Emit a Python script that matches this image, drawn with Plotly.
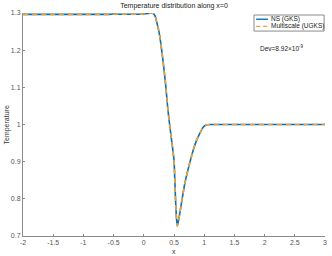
import plotly.graph_objects as go

x_vals = [-2.0, -1.5, -1.0, -0.7, -0.58, -0.52, -0.48, -0.42, -0.3, -0.1, 0.0, 0.06, 0.1, 0.13, 0.16,
          0.19, 0.21, 0.24, 0.27, 0.30, 0.32, 0.36, 0.40, 0.45, 0.50, 0.52, 0.54, 0.555, 0.57,
          0.60, 0.64, 0.68, 0.75, 0.82, 0.88, 0.93, 0.98, 1.04, 1.1, 1.5, 2.0, 2.5, 3.0]
t_ns = [1.2962, 1.2962, 1.2962, 1.2962, 1.2964, 1.2972, 1.2972, 1.2966, 1.2966, 1.2968, 1.2972, 1.2985, 1.2995,
        1.2998, 1.2985, 1.291, 1.278, 1.258, 1.232, 1.195, 1.169, 1.11, 1.038, 0.97, 0.905, 0.82, 0.75, 0.727, 0.738,
        0.765, 0.805, 0.842, 0.89, 0.932, 0.96, 0.977, 0.992, 0.999, 1.0, 1.0, 1.0, 1.0, 1.0]
t_ugks = list(t_ns)

series_names = ["NS (GKS)", "Multiscale (UGKS)"]
series_colors = ["#0072BD", "#F0A030"]
title_text = "Temperature distribution along x=0"
dev_text = "Dev=8.92×10<sup>-9</sup>"

font_family = "Liberation Sans, Arial, sans-serif"
axis_gray = "#8a8a8a"

fig = go.Figure()
fig.add_trace(go.Scatter(x=x_vals, y=t_ns, mode="lines", name=series_names[0],
                         line=dict(color=series_colors[0], width=1.6, shape="spline", smoothing=0.5)))
fig.add_trace(go.Scatter(x=x_vals, y=t_ugks, mode="lines", name=series_names[1],
                         line=dict(color=series_colors[1], width=1.6, dash="5px,4px", shape="spline", smoothing=0.5)))

axis_common = dict(showgrid=False, zeroline=False, showline=True, linecolor=axis_gray, linewidth=1,
                   ticks="inside", ticklen=2, tickcolor=axis_gray, automargin=False,
                   tickfont=dict(size=7, color="#555", family=font_family), mirror=False)

fig.update_layout(
    width=332, height=256,
    margin=dict(l=23, r=7, t=13, b=20, autoexpand=False),
    paper_bgcolor="white", plot_bgcolor="white",
    font=dict(family=font_family, size=7, color="#333"),
    title=dict(text=title_text, xref="paper", x=0.5, xanchor="center", y=0.977, yanchor="middle",
               font=dict(size=7, color="#222", family=font_family)),
    xaxis=dict(range=[-2, 3], tickvals=[-2, -1.5, -1, -0.5, 0, 0.5, 1, 1.5, 2, 2.5, 3],
               ticktext=["-2", "-1.5", "-1", "-0.5", "0", "0.5", "1", "1.5", "2", "2.5", "3"],
               **axis_common),
    yaxis=dict(range=[0.7, 1.3], tickvals=[0.7, 0.8, 0.9, 1.0, 1.1, 1.2, 1.3],
               ticktext=["0.7", "0.8", "0.9", "1", "1.1", "1.2", "1.3"],
               **axis_common),
    showlegend=False,
    hovermode=False,
)

# axis titles
fig.add_annotation(text="x", xref="paper", yref="paper", x=0.5, y=-0.068, xanchor="center",
                   yanchor="middle", showarrow=False, font=dict(size=7, color="#333"))
fig.add_annotation(text="Temperature", xref="paper", yref="paper", x=-0.053, y=0.5, xanchor="center",
                   yanchor="middle", textangle=-90, showarrow=False, font=dict(size=7, color="#333"))

# legend drawn manually (compact MATLAB-style box)
fig.add_shape(type="rect", xref="paper", yref="paper", x0=0.765, x1=0.997, y0=0.919, y1=0.991,
              line=dict(color=axis_gray, width=1), fillcolor="white", layer="above")
legend_y = [0.972, 0.940]
for name, color, ly, dash in zip(series_names, series_colors, legend_y, ["solid", "4px,3px"]):
    fig.add_shape(type="line", xref="paper", yref="paper", x0=0.772, x1=0.811, y0=ly, y1=ly,
                  line=dict(color=color, width=1.4, dash=dash), layer="above")
    fig.add_annotation(text=name, xref="paper", yref="paper", x=0.815, y=ly, xanchor="left",
                       yanchor="middle", showarrow=False, font=dict(size=6.5, color="#222"))

fig.add_annotation(text=dev_text, xref="paper", yref="paper", x=0.778, y=0.843,
                   xanchor="left", yanchor="middle", showarrow=False,
                   font=dict(size=6.5, color="#222", family=font_family))

fig.write_html("out.html", config={"displayModeBar": False},
               post_script="document.body.style.margin='0';document.body.style.overflow='hidden';")
